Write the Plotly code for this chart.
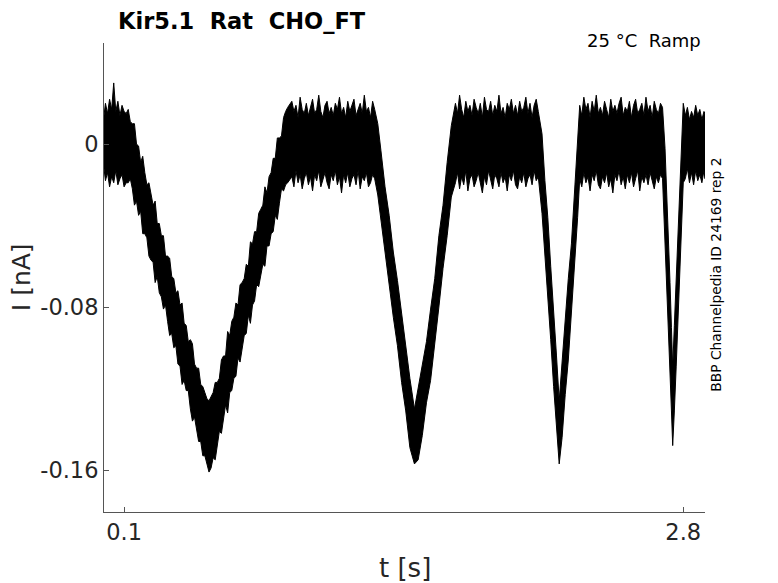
import plotly.graph_objects as go

# sample times [s] and upper / lower edges of the band of sweeps [nA]
t = [0.003, 0.01, 0.02, 0.03, 0.04, 0.05, 0.06, 0.07, 0.08, 0.09, 0.10, 0.11,
     0.12, 0.13, 0.14, 0.15, 0.16, 0.17, 0.18, 0.19, 0.20, 0.21,
     0.22, 0.23, 0.24, 0.25, 0.26, 0.27, 0.28, 0.29, 0.30, 0.31,
     0.32, 0.33, 0.34, 0.35, 0.36, 0.37, 0.38, 0.39, 0.40, 0.41,
     0.42, 0.43, 0.44, 0.45, 0.46, 0.47, 0.48, 0.49, 0.50, 0.51,
     0.52, 0.53, 0.54, 0.55, 0.56, 0.57, 0.58, 0.59, 0.60, 0.61,
     0.62, 0.63, 0.64, 0.65, 0.66, 0.67, 0.68, 0.69, 0.70, 0.71,
     0.72, 0.73, 0.74, 0.75, 0.76, 0.77, 0.78, 0.79, 0.80, 0.81,
     0.82, 0.83, 0.84, 0.85, 0.86, 0.87, 0.88, 0.89,
     0.91, 0.92, 0.93, 0.94, 0.95, 0.96, 0.97, 0.98, 0.99, 1.00,
     1.01, 1.02, 1.03, 1.04, 1.05, 1.06, 1.07, 1.08, 1.09, 1.10,
     1.11, 1.12, 1.13, 1.14, 1.15, 1.16, 1.17, 1.18, 1.19, 1.20,
     1.21, 1.22, 1.23, 1.24, 1.25, 1.26, 1.27, 1.28, 1.29, 1.30, 1.31,
     1.325, 1.34, 1.36, 1.38, 1.40, 1.42, 1.44, 1.46, 1.48, 1.502,
     1.52, 1.54, 1.56, 1.58, 1.60, 1.62, 1.64, 1.66, 1.68,
     1.70, 1.71, 1.72, 1.73, 1.74, 1.75, 1.76, 1.77, 1.78, 1.79,
     1.80, 1.81, 1.82, 1.83, 1.84, 1.85, 1.86, 1.87, 1.88, 1.89,
     1.90, 1.91, 1.92, 1.93, 1.94, 1.95, 1.96, 1.97, 1.98, 1.99,
     2.00, 2.01, 2.02, 2.03, 2.04, 2.05, 2.06, 2.07, 2.08, 2.09, 2.10,
     2.118, 2.132, 2.146, 2.160, 2.174, 2.188, 2.201,
     2.215, 2.230, 2.245, 2.260, 2.275, 2.290,
     2.30, 2.31, 2.32, 2.33, 2.34, 2.35, 2.36, 2.37, 2.38, 2.39,
     2.40, 2.41, 2.42, 2.43, 2.44, 2.45, 2.46, 2.47, 2.48, 2.49,
     2.50, 2.51, 2.52, 2.53, 2.54, 2.55, 2.56, 2.57, 2.58, 2.59,
     2.60, 2.61, 2.62, 2.63, 2.64, 2.65, 2.66, 2.67, 2.68, 2.69, 2.70,
     2.712, 2.720, 2.728, 2.736, 2.743, 2.749,
     2.757, 2.766, 2.775, 2.784, 2.792, 2.800,
     2.81, 2.82, 2.83, 2.84, 2.85, 2.86, 2.87, 2.88, 2.89, 2.90, 2.905]

i_upper = [0.014, 0.020, 0.015, 0.022, 0.017, 0.030, 0.016, 0.021, 0.014, 0.019, 0.016, 0.015,
           0.017, 0.011, 0.010, 0.010, 0.000, -0.001, -0.009, -0.006, -0.014, -0.020,
           -0.019, -0.025, -0.030, -0.028, -0.039, -0.039, -0.045, -0.045, -0.055, -0.055,
           -0.056, -0.065, -0.066, -0.073, -0.072, -0.079, -0.078, -0.088, -0.089, -0.097,
           -0.096, -0.098, -0.108, -0.110, -0.110, -0.118, -0.119, -0.122, -0.125, -0.126,
           -0.124, -0.122, -0.117, -0.117, -0.115, -0.106, -0.104, -0.104, -0.092, -0.094,
           -0.087, -0.085, -0.078, -0.079, -0.069, -0.068, -0.066, -0.059, -0.060, -0.048,
           -0.049, -0.043, -0.043, -0.034, -0.032, -0.030, -0.021, -0.024, -0.016, -0.014,
           -0.007, -0.007, 0.003, 0.003, 0.004, 0.013, 0.016, 0.018,
           0.021, 0.016, 0.019, 0.013, 0.023, 0.017, 0.015, 0.020, 0.014, 0.018,
           0.022, 0.015, 0.017, 0.024, 0.016, 0.013, 0.019, 0.021, 0.015, 0.018,
           0.014, 0.020, 0.017, 0.023, 0.015, 0.018, 0.013, 0.021, 0.016, 0.019,
           0.022, 0.014, 0.017, 0.020, 0.015, 0.024, 0.016, 0.018, 0.013, 0.021, 0.017,
           0.010, -0.003, -0.021, -0.035, -0.053, -0.067, -0.083, -0.101, -0.115, -0.130,
           -0.120, -0.107, -0.097, -0.081, -0.066, -0.045, -0.030, -0.009, 0.009,
           0.020, 0.015, 0.024, 0.017, 0.013, 0.021, 0.016, 0.019, 0.014, 0.022,
           0.018, 0.015, 0.020, 0.013, 0.023, 0.017, 0.016, 0.021, 0.014, 0.019,
           0.016, 0.024, 0.015, 0.018, 0.013, 0.020, 0.017, 0.022, 0.015, 0.019,
           0.014, 0.021, 0.016, 0.018, 0.023, 0.015, 0.020, 0.013, 0.019, 0.022, 0.016,
           0.005, -0.018, -0.036, -0.060, -0.080, -0.104, -0.126,
           -0.106, -0.088, -0.066, -0.049, -0.022, 0.003,
           0.019, 0.014, 0.023, 0.017, 0.020, 0.013, 0.021, 0.016, 0.024, 0.015,
           0.018, 0.014, 0.021, 0.017, 0.013, 0.022, 0.016, 0.019, 0.015, 0.020,
           0.023, 0.014, 0.018, 0.016, 0.021, 0.013, 0.019, 0.022, 0.015, 0.017,
           0.020, 0.014, 0.023, 0.016, 0.019, 0.013, 0.021, 0.017, 0.015, 0.020, 0.018,
           -0.002, -0.022, -0.046, -0.068, -0.090, -0.110,
           -0.089, -0.066, -0.047, -0.021, 0.001, 0.020,
           0.014, 0.018, 0.012, 0.016, 0.013, 0.019, 0.014, 0.017, 0.012, 0.016, 0.015]

i_lower = [-0.012, -0.018, -0.014, -0.021, -0.016, -0.019, -0.013, -0.020, -0.017, -0.015, -0.021, -0.019,
           -0.019, -0.017, -0.022, -0.030, -0.028, -0.035, -0.033, -0.044, -0.044, -0.046,
           -0.055, -0.057, -0.058, -0.068, -0.065, -0.073, -0.075, -0.081, -0.079, -0.087,
           -0.094, -0.093, -0.100, -0.099, -0.108, -0.109, -0.118, -0.116, -0.121, -0.121,
           -0.130, -0.136, -0.134, -0.140, -0.146, -0.146, -0.153, -0.153, -0.157, -0.161,
           -0.159, -0.154, -0.155, -0.147, -0.141, -0.142, -0.136, -0.128, -0.132, -0.122,
           -0.121, -0.115, -0.114, -0.105, -0.107, -0.100, -0.094, -0.093, -0.084, -0.088,
           -0.079, -0.077, -0.069, -0.070, -0.064, -0.059, -0.060, -0.050, -0.050, -0.044,
           -0.043, -0.035, -0.037, -0.029, -0.022, -0.023, -0.020, -0.019,
           -0.016, -0.021, -0.013, -0.019, -0.015, -0.022, -0.017, -0.014, -0.020, -0.016,
           -0.023, -0.015, -0.018, -0.013, -0.021, -0.017, -0.014, -0.019, -0.022, -0.015,
           -0.018, -0.013, -0.020, -0.016, -0.024, -0.015, -0.019, -0.014, -0.021, -0.017,
           -0.015, -0.020, -0.013, -0.022, -0.016, -0.018, -0.014, -0.021, -0.019, -0.015, -0.017,
           -0.025, -0.037, -0.051, -0.069, -0.085, -0.099, -0.117, -0.131, -0.149, -0.157,
           -0.155, -0.143, -0.127, -0.116, -0.097, -0.080, -0.061, -0.045, -0.026,
           -0.019, -0.014, -0.022, -0.016, -0.020, -0.013, -0.023, -0.017, -0.015, -0.021,
           -0.018, -0.014, -0.019, -0.024, -0.016, -0.020, -0.013, -0.018, -0.022, -0.015,
           -0.017, -0.021, -0.014, -0.019, -0.016, -0.023, -0.015, -0.018, -0.013, -0.020,
           -0.022, -0.016, -0.019, -0.014, -0.021, -0.017, -0.015, -0.020, -0.013, -0.018, -0.016,
           -0.034, -0.053, -0.076, -0.096, -0.119, -0.140, -0.157,
           -0.144, -0.123, -0.106, -0.086, -0.061, -0.036,
           -0.017, -0.021, -0.014, -0.019, -0.016, -0.023, -0.015, -0.018, -0.013, -0.020,
           -0.022, -0.016, -0.019, -0.014, -0.021, -0.017, -0.024, -0.015, -0.018, -0.013,
           -0.020, -0.016, -0.022, -0.015, -0.019, -0.014, -0.021, -0.017, -0.013, -0.023,
           -0.016, -0.019, -0.015, -0.020, -0.014, -0.018, -0.022, -0.016, -0.019, -0.015, -0.017,
           -0.042, -0.066, -0.087, -0.111, -0.131, -0.148,
           -0.131, -0.109, -0.088, -0.064, -0.042, -0.019,
           -0.017, -0.012, -0.019, -0.014, -0.020, -0.013, -0.018, -0.015, -0.019, -0.013, -0.017]

x_ticks = [0.1, 2.8]
x_ticklabels = ["0.1", "2.8"]
y_ticks = [0, -0.08, -0.16]
y_ticklabels = ["0", "-0.08", "-0.16"]

FONT = "DejaVu Sans"
INK = "#262626"

fig = go.Figure()
fig.add_trace(go.Scatter(
    x=t + t[::-1], y=i_upper + i_lower[::-1],
    mode="lines", fill="toself", fillcolor="black",
    line=dict(color="black", width=1), hoverinfo="skip", showlegend=False))

axis_common = dict(showgrid=False, zeroline=False, showline=True, linecolor="#555555",
                   linewidth=1, ticks="inside", ticklen=5, tickcolor="#555555",
                   tickfont=dict(family=FONT, size=22.5, color=INK))

fig.update_xaxes(range=[0.003, 2.905], tickvals=x_ticks, ticktext=x_ticklabels, **axis_common)
fig.update_yaxes(range=[-0.1806, 0.0496], tickvals=y_ticks, ticktext=y_ticklabels, **axis_common)

# the page body adds an 8 px margin, so the figure is 8 px smaller and margins shifted
fig.update_layout(
    width=770, height=575,
    margin=dict(l=96, r=73, t=35, b=71),
    paper_bgcolor="white", plot_bgcolor="white",
    font=dict(family=FONT, color=INK),
    annotations=[
        dict(text="<b>Kir5.1\u00a0\u00a0Rat\u00a0\u00a0CHO_FT</b>", xref="paper", yref="paper",
             x=0.0195, y=1.047, xanchor="left", yanchor="middle", showarrow=False,
             font=dict(size=22.5, color="black")),
        dict(text="25 °C\u00a0\u00a0Ramp", xref="paper", yref="paper",
             x=0.9967, y=1.005, xanchor="right", yanchor="middle", showarrow=False,
             font=dict(size=18, color="black")),
        dict(text="BBP Channelpedia ID 24169 rep 2", xref="paper", yref="paper",
             x=1.0183, y=0.506, xanchor="center", yanchor="middle", textangle=-90,
             showarrow=False, font=dict(size=13.8, color="black")),
        dict(text="I [nA]", xref="paper", yref="paper", x=-0.137, y=0.5,
             xanchor="center", yanchor="middle", textangle=-90, showarrow=False,
             font=dict(size=25, color=INK)),
        dict(text="t [s]", xref="paper", yref="paper", x=0.5, y=-0.1188,
             xanchor="center", yanchor="middle", showarrow=False,
             font=dict(size=26, color=INK)),
    ],
)

fig.write_html("out.html")
